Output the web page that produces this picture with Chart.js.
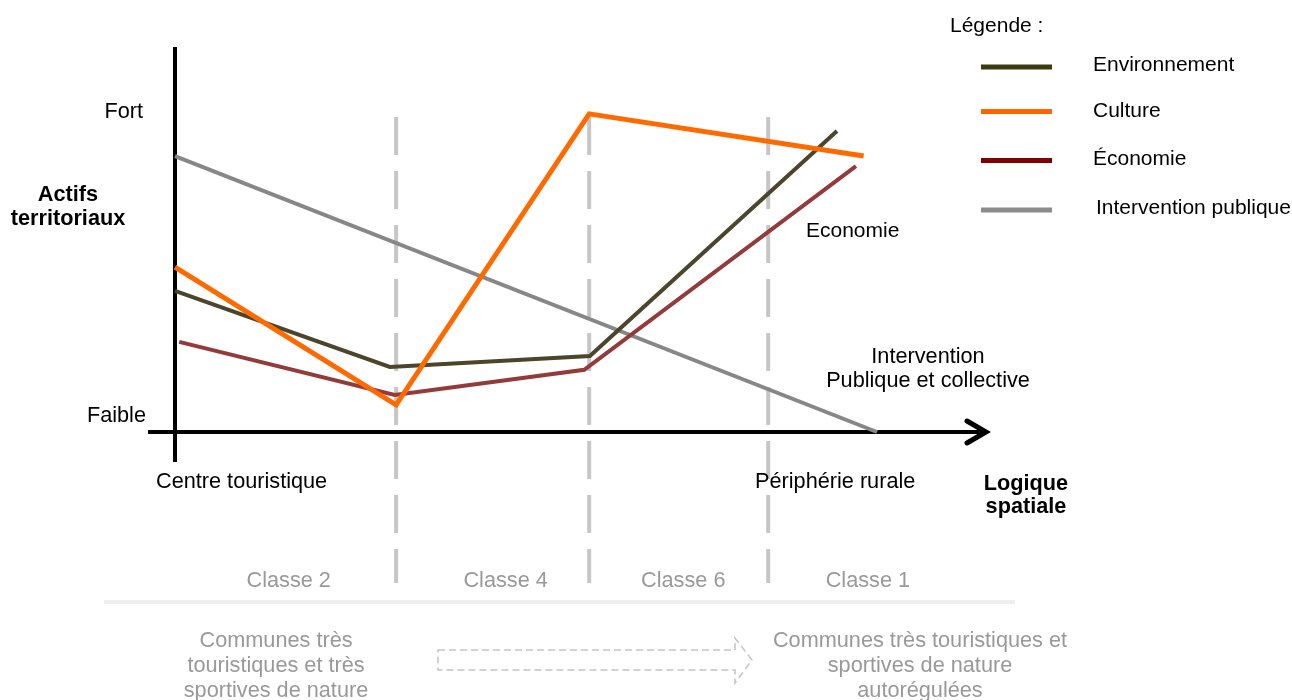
<!DOCTYPE html>
<html lang="fr">
<head>
<meta charset="utf-8">
<title>Actifs territoriaux et logique spatiale</title>
<script src="https://cdn.jsdelivr.net/npm/chart.js@4.4.1/dist/chart.umd.min.js"></script>
<style>
  html, body { margin: 0; padding: 0; background: #fff; }
  #wrap { width: 1292px; height: 700px; }
</style>
</head>
<body>
<div id="wrap"><canvas id="grafico" width="1292" height="700"></canvas></div>
<script>
// Position le long de la logique spatiale (0 = centre, 100 = périphérie) et niveau (0 = faible, 10 = fort)
var envX = [0, 30.6, 59.1, 94.3];
var envY = [4.38, 2.02, 2.36, 9.35];
var cultX = [0, 31.5, 59.0, 98.1];
var cultY = [5.12, 0.84, 9.88, 8.57];
var ecoX = [0.6, 31.3, 58.3, 97.0];
var ecoY = [2.80, 1.15, 1.93, 8.26];
var pubX = [0, 100];
var pubY = [8.57, 0];

// Limites des classes (pointillés verticaux)
var classBounds = [31.5, 59.0, 84.5];
var guideSpan = [9.78, -4.69];

var legendLabels = ['Environnement', 'Culture', 'Économie', 'Intervention publique'];
var classLabels = ['Classe 2', 'Classe 4', 'Classe 6', 'Classe 1'];
var classCenters = [16.2, 47.1, 72.4, 98.7];

var FONT = '"Liberation Sans", Arial, Helvetica, sans-serif';
var FS = 21.7;

function pts(xs, ys) {
    return xs.map(function(x, i) { return { x: x, y: ys[i] }; });
}

var datasets = [
    { label: 'Culture', data: pts(cultX, cultY), borderColor: '#ff6a00', borderWidth: 5, order: 1 },
    { label: 'Économie', data: pts(ecoX, ecoY), borderColor: '#933b3b', borderWidth: 4, order: 2 },
    { label: 'Environnement', data: pts(envX, envY), borderColor: '#4b452b', borderWidth: 4, order: 3 },
    { label: 'Intervention publique', data: pts(pubX, pubY), borderColor: '#878787', borderWidth: 4, order: 4 }
];
classBounds.forEach(function(b) {
    datasets.push({
        label: 'limite',
        data: [{ x: b, y: guideSpan[0] }, { x: b, y: guideSpan[1] }],
        borderColor: '#c6c6c6',
        borderWidth: 4,
        borderDash: [38, 16],
        order: 10
    });
});
datasets.forEach(function(d) {
    d.pointRadius = 0;
    d.tension = 0;
    d.fill = false;
    d.clip = false;
    d.borderCapStyle = 'butt';
});

var legendColors = ['#3b3b10', '#ff6600', '#800000', '#8c8c8c'];

function txt(ctx, s, x, y, opts) {
    opts = opts || {};
    ctx.font = (opts.bold ? 'bold ' : '') + (opts.size || FS) + 'px ' + FONT;
    ctx.fillStyle = opts.color || '#000';
    ctx.textAlign = opts.align || 'left';
    ctx.textBaseline = 'alphabetic';
    ctx.fillText(s, x, y);
}

var decor = {
    id: 'decor',
    beforeDatasetsDraw: function(chart) {
        var ctx = chart.ctx;
        var x0 = chart.scales.x.getPixelForValue(0);
        var y0 = chart.scales.y.getPixelForValue(0);
        ctx.save();
        ctx.strokeStyle = '#000';
        ctx.lineWidth = 4;
        ctx.beginPath();
        ctx.moveTo(x0, 47);
        ctx.lineTo(x0, 462);
        ctx.moveTo(148, y0);
        ctx.lineTo(984, y0);
        ctx.stroke();
        ctx.lineWidth = 5;
        ctx.lineCap = 'round';
        ctx.lineJoin = 'miter';
        ctx.beginPath();
        ctx.moveTo(967, y0 - 11);
        ctx.lineTo(986, y0);
        ctx.lineTo(967, y0 + 11);
        ctx.stroke();

        // séparateur
        ctx.strokeStyle = '#eeeeee';
        ctx.lineWidth = 4;
        ctx.lineCap = 'butt';
        ctx.beginPath();
        ctx.moveTo(104, 602);
        ctx.lineTo(1015, 602);
        ctx.stroke();

        // flèche pointillée
        ctx.strokeStyle = '#c4c4c4';
        ctx.lineWidth = 1.5;
        ctx.setLineDash([7, 4]);
        ctx.beginPath();
        ctx.moveTo(438, 650);
        ctx.lineTo(735, 650);
        ctx.lineTo(735, 638);
        ctx.lineTo(752, 660);
        ctx.lineTo(735, 683);
        ctx.lineTo(735, 670);
        ctx.lineTo(438, 670);
        ctx.closePath();
        ctx.stroke();
        ctx.restore();
    },
    afterDraw: function(chart) {
        var ctx = chart.ctx;
        var xs = chart.scales.x;
        ctx.save();
        txt(ctx, 'Fort', 143, 118, { align: 'right' });
        txt(ctx, 'Faible', 146, 422, { align: 'right' });
        txt(ctx, 'Actifs', 68, 201, { align: 'center', bold: true });
        txt(ctx, 'territoriaux', 68, 225, { align: 'center', bold: true });
        txt(ctx, 'Centre touristique', 156, 488);
        txt(ctx, 'Périphérie rurale', 755, 488);
        txt(ctx, 'Logique', 1026, 490, { align: 'center', bold: true });
        txt(ctx, 'spatiale', 1026, 513, { align: 'center', bold: true });
        txt(ctx, 'Economie', 806, 237, { size: 21 });
        txt(ctx, 'Intervention', 928, 363, { align: 'center' });
        txt(ctx, 'Publique et collective', 928, 387, { align: 'center' });

        classLabels.forEach(function(c, i) {
            txt(ctx, c, xs.getPixelForValue(classCenters[i]), 587, { align: 'center', color: '#999999' });
        });

        var left = ['Communes très', 'touristiques et très', 'sportives de nature'];
        var right = ['Communes très touristiques et', 'sportives de nature', 'autorégulées'];
        left.forEach(function(s, i) { txt(ctx, s, 276, 647 + i * 25, { align: 'center', color: '#999999' }); });
        right.forEach(function(s, i) { txt(ctx, s, 920, 647 + i * 25, { align: 'center', color: '#999999' }); });

        // légende
        txt(ctx, 'Légende :', 950, 32, { size: 21 });
        var ly = [67, 111.5, 160.5, 210];
        var ty = [71, 117, 165, 214];
        var tx = [1093, 1093, 1093, 1096];
        ctx.lineWidth = 5;
        legendLabels.forEach(function(l, i) {
            ctx.strokeStyle = legendColors[i];
            ctx.beginPath();
            ctx.moveTo(981, ly[i]);
            ctx.lineTo(1052, ly[i]);
            ctx.stroke();
            txt(ctx, l, tx[i], ty[i], { size: 21 });
        });
        ctx.restore();
    }
};

var ctx = document.getElementById('grafico').getContext('2d');
var grafico = new Chart(ctx, {
    type: 'line',
    data: { datasets: datasets },
    options: {
        responsive: false,
        animation: false,
        events: [],
        layout: { padding: { left: 175, right: 415, top: 110, bottom: 268 } },
        plugins: { legend: { display: false }, tooltip: { enabled: false } },
        scales: {
            x: { type: 'linear', min: 0, max: 100, display: false },
            y: { type: 'linear', min: 0, max: 10, display: false }
        }
    },
    plugins: [decor]
});
</script>
</body>
</html>
